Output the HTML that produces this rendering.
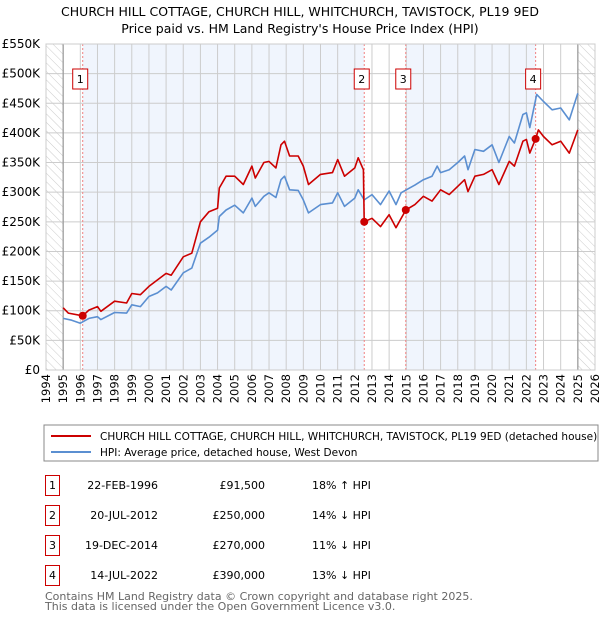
<!DOCTYPE html>
<html><head><meta charset="utf-8"><style>
body{margin:0;background:#fff;font-family:"DejaVu Sans","Liberation Sans",sans-serif;}
svg text{font-family:"DejaVu Sans","Liberation Sans",sans-serif;}
</style></head><body>
<svg id="c" width="600" height="620" viewBox="0 0 600 620" xmlns="http://www.w3.org/2000/svg">
<defs><pattern id="hatch" width="6" height="6" patternUnits="userSpaceOnUse" patternTransform="rotate(-45)"><line x1="0" y1="0" x2="0" y2="6" stroke="#ccc" stroke-width="1"/></pattern></defs>
<text x="300" y="16" text-anchor="middle" font-size="12.5">CHURCH HILL COTTAGE, CHURCH HILL, WHITCHURCH, TAVISTOCK, PL19 9ED</text>
<text x="300" y="33" text-anchor="middle" font-size="12.5">Price paid vs. HM Land Registry's House Price Index (HPI)</text>
<g id="plot"></g>
<rect x="44" y="425" width="554" height="36" fill="#fff" stroke="#888"/>
<line x1="51" y1="436" x2="91" y2="436" stroke="#cc0000" stroke-width="2"/>
<text x="100" y="440" font-size="10.5">CHURCH HILL COTTAGE, CHURCH HILL, WHITCHURCH, TAVISTOCK, PL19 9ED (detached house)</text>
<line x1="51" y1="452" x2="91" y2="452" stroke="#5b8fd1" stroke-width="2"/>
<text x="100" y="456" font-size="10.5">HPI: Average price, detached house, West Devon</text>
<g id="table"></g>
<text x="45" y="600" font-size="11" fill="#666">Contains HM Land Registry data © Crown copyright and database right 2025.</text>
<text x="45" y="610" font-size="11" fill="#666">This data is licensed under the Open Government Licence v3.0.</text>
</svg>
<script>
const hpiYears=[1995,1995.5,1996,1996.5,1997,1997.2,1998,1998.7,1999,1999.5,2000,2000.5,2001,2001.3,2002,2002.5,2003,2003.5,2004,2004.1,2004.5,2005,2005.5,2006,2006.2,2006.7,2007,2007.4,2007.7,2007.9,2008.2,2008.7,2009,2009.3,2010,2010.7,2011,2011.4,2012,2012.2,2012.55,2013,2013.5,2014,2014.4,2014.7,2015,2015.5,2016,2016.5,2016.8,2017,2017.5,2018,2018.4,2018.6,2019,2019.5,2020,2020.4,2021,2021.3,2021.8,2022,2022.2,2022.6,2023,2023.5,2024,2024.5,2025];
const hpiValues=[87,84,79,87,90,85,97,96,110,107,124,130,141,135,164,172,214,224,236,259,270,278,265,290,276,293,299,291,321,327,304,303,287,265,279,282,299,276,290,304,287,296,279,302,279,299,304,312,321,327,344,333,338,350,361,338,372,369,380,350,394,383,431,434,409,465,453,439,442,422,467];
const propYears=[1995,1995.3,1996.14,1996.5,1997,1997.2,1998,1998.7,1999,1999.5,2000,2000.5,2001,2001.3,2002,2002.5,2003,2003.5,2004,2004.1,2004.5,2005,2005.5,2006,2006.2,2006.7,2007,2007.4,2007.7,2007.9,2008.2,2008.7,2009,2009.3,2010,2010.7,2011,2011.4,2012,2012.2,2012.5,2012.55,2013,2013.5,2014,2014.4,2014.97,2015.5,2016,2016.5,2017,2017.5,2018,2018.4,2018.6,2019,2019.5,2020,2020.4,2021,2021.3,2021.8,2022,2022.2,2022.54,2022.7,2023,2023.5,2024,2024.5,2025];
const propValues=[105,96,91.5,101,107,99,116,113,129,127,141,152,163,160,191,197,250,267,273,307,327,327,313,344,324,350,352,341,380,386,361,361,344,313,330,333,355,327,341,358,338,250,256,242,262,240,270,279,293,285,304,296,310,321,301,327,330,338,313,352,344,386,389,366,390,405,394,380,386,366,405];
const saleYears=[1996.14,2012.55,2014.97,2022.54];
const saleValues=[91.5,250,270,390];
const saleLabels=["1","2","3","4"];
const saleDates=["22-FEB-1996","20-JUL-2012","19-DEC-2014","14-JUL-2022"];
const salePrices=["£91,500","£250,000","£270,000","£390,000"];
const saleDiffs=["18% ↑ HPI","14% ↓ HPI","11% ↓ HPI","13% ↓ HPI"];
const yTicks=[0,50,100,150,200,250,300,350,400,450,500,550];
const yTickLabels=["£0","£50K","£100K","£150K","£200K","£250K","£300K","£350K","£400K","£450K","£500K","£550K"];
const xTicks=[1994,1995,1996,1997,1998,1999,2000,2001,2002,2003,2004,2005,2006,2007,2008,2009,2010,2011,2012,2013,2014,2015,2016,2017,2018,2019,2020,2021,2022,2023,2024,2025,2026];

const X0=46,X1=595,Y0=370,Y1=44;
const xs=y=>X0+(y-1994)/32*(X1-X0);
const ys=v=>Y0-v/550*(Y0-Y1);
const NS="http://www.w3.org/2000/svg";
const plot=document.getElementById('plot');
function mk(tag,attrs,parent){const e=document.createElementNS(NS,tag);for(const k in attrs)e.setAttribute(k,attrs[k]);(parent||plot).appendChild(e);return e;}

let e;
e=mk('rect',{x:X0,y:Y1,width:X1-X0,height:Y0-Y1,fill:'#fff'});


const bands=[[saleYears[0],saleYears[1]],[saleYears[2],saleYears[3]]];
bands.forEach(b=>{e=mk('rect',{x:xs(b[0]),y:Y1,width:xs(b[1])-xs(b[0]),height:Y0-Y1,fill:'#f0f5fd'});

});
e=mk('rect',{x:X0,y:Y1,width:xs(1995)-X0,height:Y0-Y1,fill:'url(#hatch)'});


e=mk('rect',{x:xs(2025),y:Y1,width:X1-xs(2025),height:Y0-Y1,fill:'url(#hatch)'});


xTicks.forEach((t,i)=>{e=mk('line',{x1:xs(t),x2:xs(t),y1:Y1,y2:Y0,stroke:'#ccc','stroke-width':1});


e=mk('text',{x:0,y:0,'font-size':11.5,'text-anchor':'end',transform:`translate(${xs(t)+4},374) rotate(-90)`});
e.textContent=t;

});
yTicks.forEach((t,i)=>{e=mk('line',{x1:X0,x2:X1,y1:ys(t),y2:ys(t),stroke:'#ccc','stroke-width':1});


e=mk('text',{x:40,y:ys(t)+4,'font-size':12,'text-anchor':'end'});
e.textContent=yTickLabels[i];

});
[1995,2025].forEach(t=>{e=mk('line',{x1:xs(t),x2:xs(t),y1:Y1,y2:Y0,stroke:'#999','stroke-width':1.2});

});
saleYears.forEach((s,i)=>{e=mk('line',{x1:xs(s),x2:xs(s),y1:Y1,y2:Y0,stroke:'#f08080','stroke-width':1,'stroke-dasharray':'2,2'});


e=mk('rect',{x:xs(s)-10,y:69,width:15,height:20,fill:'#fff',stroke:'#cc0000'});


e=mk('text',{x:xs(s)-2.5,y:83,'font-size':11,'text-anchor':'middle'});
e.textContent=saleLabels[i];

});
const path=(xa,va)=>xa.map((y,i)=>(i?'L':'M')+xs(y).toFixed(1)+','+ys(va[i]).toFixed(1)).join('');
e=mk('path',{d:path(hpiYears,hpiValues),fill:'none',stroke:'#5b8fd1','stroke-width':1.6,'stroke-linejoin':'round'});


e=mk('path',{d:path(propYears,propValues),fill:'none',stroke:'#cc0000','stroke-width':1.6,'stroke-linejoin':'round'});


saleYears.forEach((s,i)=>{e=mk('circle',{cx:xs(s),cy:ys(saleValues[i]),r:4,fill:'#cc0000'});

});
e=mk('rect',{x:X0,y:Y1,width:X1-X0,height:Y0-Y1,fill:'none',stroke:'#ccc'});


const tb=document.getElementById('table');
saleLabels.forEach((l,i)=>{const cy=483+i*30;
e=mk('rect',{x:45.5,y:cy-7.5,width:14,height:20,fill:'#fff',stroke:'#cc0000'},tb);


e=mk('text',{x:52.5,y:cy+6,'font-size':11,'text-anchor':'middle'},tb);e.textContent=l;


e=mk('text',{x:158,y:cy+6,'font-size':11,'text-anchor':'end'},tb);e.textContent=saleDates[i];


e=mk('text',{x:265,y:cy+6,'font-size':11,'text-anchor':'end'},tb);e.textContent=salePrices[i];


e=mk('text',{x:312,y:cy+6,'font-size':11},tb);e.textContent=saleDiffs[i];

});
</script>
</body></html>
